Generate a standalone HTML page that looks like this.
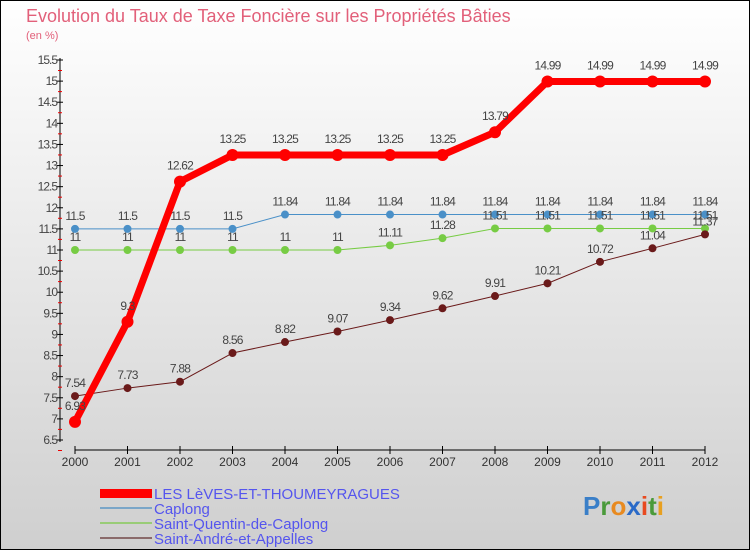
<!DOCTYPE html>
<html><head><meta charset="utf-8"><style>
body{margin:0;width:750px;height:550px;overflow:hidden;font-family:"Liberation Sans",sans-serif}
</style></head><body>
<svg width="750" height="550" xmlns="http://www.w3.org/2000/svg" font-family="Liberation Sans, sans-serif">
<defs><linearGradient id="bg" x1="0" y1="0" x2="0" y2="1"><stop offset="0" stop-color="#ffffff"/><stop offset="1" stop-color="#cfcfcf"/></linearGradient></defs>
<rect x="0.5" y="0.5" width="749" height="549" fill="url(#bg)" stroke="#000"/>
<text x="26" y="22" font-size="18" fill="#e2607a">Evolution du Taux de Taxe Foncière sur les Propriétés Bâties</text>
<text x="26" y="39" font-size="11" fill="#e2607a">(en %)</text>
<g id="axes"></g><g id="series"></g>
<g>
<rect x="100" y="489" width="52" height="9" fill="#f00"/>
<line x1="100" y1="508" x2="152" y2="508" stroke="#7aa6c8" stroke-width="2"/>
<line x1="100" y1="523" x2="152" y2="523" stroke="#99cc77" stroke-width="2"/>
<line x1="100" y1="538" x2="152" y2="538" stroke="#8a6a6a" stroke-width="2"/>
<g font-size="15" fill="#5555ee">
<text x="154" y="499">LES LèVES-ET-THOUMEYRAGUES</text>
<text x="154" y="514">Caplong</text>
<text x="154" y="529">Saint-Quentin-de-Caplong</text>
<text x="154" y="544">Saint-André-et-Appelles</text></g></g>
<text x="583" y="515" font-size="26" font-weight="bold"><tspan fill="#3a7fc8">P</tspan><tspan fill="#4a9a3a">r</tspan><tspan fill="#e88a20">o</tspan><tspan fill="#2a6ac8">x</tspan><tspan fill="#e84a20">i</tspan><tspan fill="#4a9a3a">t</tspan><tspan fill="#e8a020">i</tspan></text>
</svg>
<script>
const years=[2000,2001,2002,2003,2004,2005,2006,2007,2008,2009,2010,2011,2012];
const lesLeves=[6.93,9.3,12.62,13.25,13.25,13.25,13.25,13.25,13.79,14.99,14.99,14.99,14.99];
const caplong=[11.5,11.5,11.5,11.5,11.84,11.84,11.84,11.84,11.84,11.84,11.84,11.84,11.84];
const stQuentin=[11,11,11,11,11,11,11.11,11.28,11.51,11.51,11.51,11.51,11.51];
const stAndre=[7.54,7.73,7.88,8.56,8.82,9.07,9.34,9.62,9.91,10.21,10.72,11.04,11.37];
const yTicks=[6.5,7,7.5,8,8.5,9,9.5,10,10.5,11,11.5,12,12.5,13,13.5,14,14.5,15,15.5];
const NS="http://www.w3.org/2000/svg";
const x=i=>75+i*52.5;
const y=v=>440-(v-6.5)*(380/9);
function mk(t,a,p){const e=document.createElementNS(NS,t);for(const k in a)e.setAttribute(k,a[k]);p.appendChild(e);return e;}
const ax=document.getElementById('axes');
let l=mk('line',{x1:60,y1:58,x2:60,y2:442,stroke:'#000'},ax);

l=mk('line',{x1:75,y1:450,x2:705,y2:450,stroke:'#000'},ax);

yTicks.forEach(v=>{
  mk('line',{x1:57,x2:63,y1:y(v),y2:y(v),stroke:'#000'},ax);
  mk('line',{x1:58,x2:62,y1:y(v)+10.5,y2:y(v)+10.5,stroke:'#e00'},ax);
  const t=mk('text',{x:57,y:y(v)+4,'font-size':12,'text-anchor':'end',fill:'#444','letter-spacing':'-1'},ax);
  
  t.textContent=v;
});
years.forEach((yr,i)=>{
  mk('line',{x1:x(i),x2:x(i),y1:446,y2:454,stroke:'#000'},ax);
  const t=mk('text',{x:x(i),y:466,'font-size':12,'text-anchor':'middle',fill:'#333'},ax);
  
  t.textContent=yr;
});
const sg=document.getElementById('series');
function draw(vals,color,w,r,name,dy){
  const g=mk('g',{},sg);
  
  mk('polyline',{points:vals.map((v,i)=>x(i)+','+y(v)).join(' '),fill:'none',stroke:color,'stroke-width':w,'stroke-linejoin':'round'},g);
  vals.forEach((v,i)=>{
    const c=mk('circle',{cx:x(i),cy:y(v),r:r,fill:color},g);
    
    const t=mk('text',{x:x(i),y:y(v)+dy,'font-size':12,'text-anchor':'middle',fill:'#444','letter-spacing':'-0.8'},g);
    t.textContent=v;
  });
}
draw(caplong,'#4a90c8',1,4,'caplong-series',-9);
draw(stQuentin,'#77cc44',1,4,'saint-quentin-series',-9);
draw(stAndre,'#6a1a1a',1,4,'saint-andre-series',-9);
draw(lesLeves,'#ff0000',7,6,'les-leves-series',-12);
</script>
</body></html>
